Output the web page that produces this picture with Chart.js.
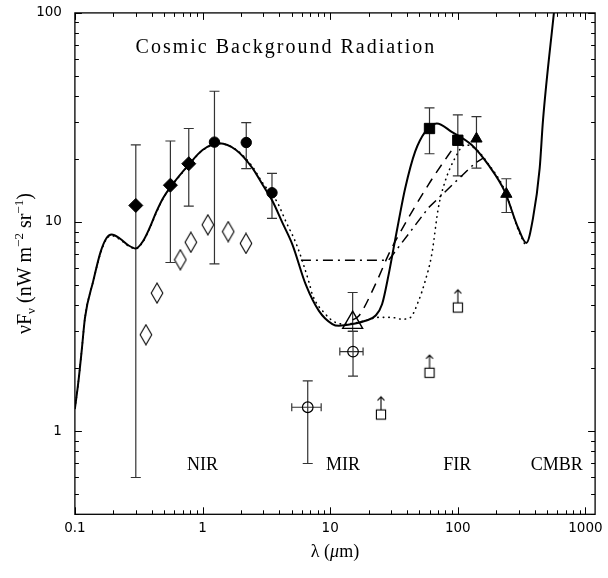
<!DOCTYPE html>
<html><head><meta charset="utf-8">
<script src="https://cdn.jsdelivr.net/npm/chart.js@4.4.1/dist/chart.umd.min.js"></script>
<style>html,body{margin:0;padding:0;background:#fff;}canvas{display:block;}</style>
</head><body>
<canvas id="c" width="608" height="578"></canvas>
<script>
// ---- axis ticks ----
const xTickValues = [0.1, 1, 10, 100, 1000];
const xTickLabels = ['0.1', '1', '10', '100', '1000'];
const yTickValues = [1, 10, 100];
const yTickLabels = ['1', '10', '100'];

// ---- measurements ----
const diamondX  = [0.30, 0.56, 0.78];
const diamondY  = [12.0, 15.0, 19.0];
const diamondLo = [0.60, 6.4, 11.9];
const diamondHi = [23.4, 24.4, 28.0];

const circleX  = [1.24, 2.2, 3.5];
const circleY  = [24.1, 24.0, 13.8];
const circleLo = [6.3, 18.0, 10.4];
const circleHi = [42.2, 29.9, 17.1];

const openDiamondX = [0.36, 0.44, 0.67, 0.81, 1.1, 1.59, 2.19];
const openDiamondY = [2.89, 4.57, 6.6, 8.0, 9.7, 9.0, 7.9];

const openTriX  = [15];
const openTriY  = [3.3];
const openTriLo = [3.0];
const openTriHi = [4.6];

const openCircX   = [6.67, 15.1];
const openCircY   = [1.30, 2.4];
const openCircLo  = [0.70, 1.83];
const openCircHi  = [1.74, 3.0];
const openCircXLo = [5.0, 11.9];
const openCircXHi = [8.5, 18.1];

const squareX  = [60, 100];
const squareY  = [28.0, 24.6];
const squareLo = [21.2, 16.6];
const squareHi = [35.1, 32.5];

const triX  = [140, 240];
const triY  = [25.0, 13.6];
const triLo = [18.1, 11.1];
const triHi = [31.9, 16.1];

const limitX = [25, 60, 100];
const limitY = [1.2, 1.9, 3.9];

// ---- model curves ----
const solidX = [0.1, 0.106, 0.113, 0.12, 0.139, 0.159, 0.177, 0.194, 0.225, 0.261, 0.30, 0.342, 0.385, 0.435, 0.49, 0.552, 0.78, 1.0, 1.355, 1.83, 2.46, 2.95, 3.53, 4.23, 5.06, 6.43, 8.16, 10.4, 11.7, 14.9, 18.9, 22.6, 25.5, 28.7, 31.4, 34.4, 38.7, 46.3, 55.5, 68.4, 89.5, 128, 173, 233, 297, 344, 388, 438, 465, 566, 620];
const solidY = [1.28, 1.68, 2.42, 3.49, 5.2, 7.2, 8.39, 8.71, 8.34, 7.75, 7.47, 8.1, 9.36, 11.2, 13.0, 14.5, 18.8, 22.1, 23.8, 22.1, 18.1, 15.1, 12.6, 9.9, 7.8, 5.03, 3.76, 3.25, 3.19, 3.25, 3.37, 3.56, 4.04, 5.6, 7.5, 10.1, 14.5, 21.7, 27.0, 29.6, 27.0, 23.4, 18.8, 14.0, 9.36, 7.94, 10.4, 18.1, 30.7, 100, 170];

const dotX = [0.1, 0.106, 0.113, 0.12, 0.139, 0.159, 0.177, 0.194, 0.225, 0.261, 0.30, 0.342, 0.385, 0.435, 0.49, 0.552, 0.78, 1.0, 1.355, 1.83, 2.46, 2.95, 3.8, 4.55, 5.45, 6.9, 7.24, 9.2, 11.0, 13.2, 18.0, 24.0, 30.0, 36.5, 42.4, 49.2, 55.5, 62.5, 70.4, 79.4, 95, 114, 140, 173, 233, 297, 344];
const dotY = [1.28, 1.68, 2.42, 3.49, 5.2, 7.1, 8.3, 8.6, 8.25, 7.7, 7.45, 8.05, 9.3, 11.1, 12.9, 14.4, 18.7, 22.0, 23.7, 22.2, 18.4, 15.4, 12.6, 9.9, 7.8, 5.03, 4.51, 3.62, 3.31, 3.25, 3.35, 3.5, 3.5, 3.43, 3.49, 4.19, 5.22, 7.0, 11.7, 15.6, 20.2, 23.4, 22.2, 19.0, 14.2, 9.2, 7.55];

const dashX = [15, 16.8, 22.6, 28.7, 32.4, 58.9, 100];
const dashY = [3.4, 3.56, 5.03, 7.0, 8.1, 15.1, 24.3];

const dashDotX = [5.9, 28.7, 58.9, 136, 158];
const dashDotY = [6.57, 6.57, 11.7, 19.1, 20.2];

// ---- text ----
const titleText = 'Cosmic Background Radiation';
const regionNames = ['NIR', 'MIR', 'FIR', 'CMBR'];
const regionX = [1.0, 12.6, 99, 597];
const regionY = 0.687;

function pts(xs, ys) { return xs.map((x, i) => ({x: x, y: ys[i]})); }

function makeTallDiamond() {
  const c = document.createElement('canvas'); c.width = 14; c.height = 22;
  const g = c.getContext('2d'); g.strokeStyle = '#000'; g.lineWidth = 1.1;
  g.beginPath(); g.moveTo(7, 1); g.lineTo(12.8, 11); g.lineTo(7, 21); g.lineTo(1.2, 11); g.closePath(); g.stroke();
  return c;
}
function makeLimitSquare() {
  const c = document.createElement('canvas'); c.width = 14; c.height = 40;
  const g = c.getContext('2d'); g.strokeStyle = '#000'; g.lineWidth = 1.1;
  const cx = 7, cy = 20, h = 4.6;
  g.strokeRect(cx - h, cy - h, 2 * h, 2 * h);
  g.beginPath(); g.moveTo(cx, cy - h); g.lineTo(cx, cy - h - 13);
  g.moveTo(cx - 3.5, cy - h - 9.5); g.lineTo(cx, cy - h - 13); g.lineTo(cx + 3.5, cy - h - 9.5);
  g.stroke();
  return c;
}

const errorGroups = [
  {x: diamondX, y: diamondY, lo: diamondLo, hi: diamondHi},
  {x: circleX, y: circleY, lo: circleLo, hi: circleHi},
  {x: openTriX, y: openTriY, lo: openTriLo, hi: openTriHi},
  {x: openCircX, y: openCircY, lo: openCircLo, hi: openCircHi, xlo: openCircXLo, xhi: openCircXHi},
  {x: squareX, y: squareY, lo: squareLo, hi: squareHi},
  {x: triX, y: triY, lo: triLo, hi: triHi}
];

const errorBarPlugin = {
  id: 'errorBars',
  beforeDatasetsDraw(chart) {
    const ctx = chart.ctx, xs = chart.scales.x, ys = chart.scales.y;
    ctx.save();
    ctx.strokeStyle = '#333'; ctx.lineWidth = 1.2;
    errorGroups.forEach(g => {
      g.x.forEach((xv, i) => {
        const px = xs.getPixelForValue(xv);
        const py = ys.getPixelForValue(g.y[i]);
        const pl = ys.getPixelForValue(g.lo[i]);
        const ph = ys.getPixelForValue(g.hi[i]);
        ctx.beginPath();
        ctx.moveTo(px, pl); ctx.lineTo(px, ph);
        ctx.moveTo(px - 5, pl); ctx.lineTo(px + 5, pl);
        ctx.moveTo(px - 5, ph); ctx.lineTo(px + 5, ph);
        if (g.xlo) {
          const xl = xs.getPixelForValue(g.xlo[i]);
          const xh = xs.getPixelForValue(g.xhi[i]);
          ctx.moveTo(xl, py); ctx.lineTo(xh, py);
          ctx.moveTo(xl, py - 4); ctx.lineTo(xl, py + 4);
          ctx.moveTo(xh, py - 4); ctx.lineTo(xh, py + 4);
        }
        ctx.stroke();
      });
    });
    ctx.restore();
  }
};

function drawRich(ctx, parts, cx, cy, rot) {
  ctx.save(); ctx.translate(cx, cy); ctx.rotate(rot);
  ctx.textBaseline = 'alphabetic'; ctx.textAlign = 'left'; ctx.fillStyle = '#000';
  let total = 0;
  parts.forEach(p => { ctx.font = (p.it ? 'italic ' : '') + p.s + 'px "Liberation Serif"'; p.w = ctx.measureText(p.t).width; total += p.w; });
  let x = -total / 2;
  parts.forEach(p => { ctx.font = (p.it ? 'italic ' : '') + p.s + 'px "Liberation Serif"'; ctx.fillText(p.t, x, p.dy || 0); x += p.w; });
  ctx.restore();
}

const framePlugin = {
  id: 'frame',
  afterDraw(chart) {
    const ctx = chart.ctx, ca = chart.chartArea, xs = chart.scales.x, ys = chart.scales.y;
    ctx.save();
    ctx.strokeStyle = '#000'; ctx.lineWidth = 1.3;
    ctx.strokeRect(ca.left, ca.top, ca.right - ca.left, ca.bottom - ca.top);
    ctx.lineWidth = 1;
    ctx.beginPath();
    for (let e = -1; e <= 3; e++) {
      for (let m = 1; m <= 9; m++) {
        const v = m * Math.pow(10, e);
        if (v < xs.min * 0.999 || v > xs.max) continue;
        const px = Math.round(xs.getPixelForValue(v)) + 0.5;
        const L = m === 1 ? 7 : 4;
        ctx.moveTo(px, ca.bottom); ctx.lineTo(px, ca.bottom - L);
        ctx.moveTo(px, ca.top); ctx.lineTo(px, ca.top + L);
      }
    }
    for (let e = -1; e <= 2; e++) {
      for (let m = 1; m <= 9; m++) {
        const v = m * Math.pow(10, e);
        if (v < ys.min * 0.999 || v > ys.max * 1.001) continue;
        const py = Math.round(ys.getPixelForValue(v)) + 0.5;
        const L = m === 1 ? 7 : 4;
        ctx.moveTo(ca.left, py); ctx.lineTo(ca.left + L, py);
        ctx.moveTo(ca.right, py); ctx.lineTo(ca.right - L, py);
      }
    }
    ctx.stroke();

    // title
    ctx.fillStyle = '#000';
    ctx.font = '20px "Liberation Serif"';
    ctx.letterSpacing = '2px';
    ctx.textAlign = 'center'; ctx.textBaseline = 'middle';
    ctx.fillText(titleText, xs.getPixelForValue(4.5), 48);
    ctx.letterSpacing = '0px';
    // region labels
    ctx.font = '18px "Liberation Serif"';
    regionNames.forEach((n, i) => {
      ctx.fillText(n, xs.getPixelForValue(regionX[i]), ys.getPixelForValue(regionY));
    });
    ctx.restore();

    // axis titles
    drawRich(ctx, [
      {t: 'λ (', s: 18}, {t: 'μ', s: 18, it: true}, {t: 'm)', s: 18}
    ], (ca.left + ca.right) / 2, 557, 0);
    drawRich(ctx, [
      {t: 'νF', s: 20}, {t: 'ν', s: 13, dy: 4}, {t: ' (nW m', s: 20}, {t: '−2', s: 13, dy: -8},
      {t: ' sr', s: 20}, {t: '−1', s: 13, dy: -8}, {t: ')', s: 20}
    ], 31, (ca.top + ca.bottom) / 2, -Math.PI / 2);
  }
};

const tallDiamond = makeTallDiamond();
const limitSquare = makeLimitSquare();
const tickFont = {family: '"DejaVu Sans"', size: 13.5};
const curve = {showLine: true, pointRadius: 0, borderColor: '#000', cubicInterpolationMode: 'monotone'};

new Chart(document.getElementById('c'), {
  type: 'scatter',
  data: {
    datasets: [
      {label: 'diamonds', data: pts(diamondX, diamondY), pointStyle: 'rectRot', pointRadius: 7, backgroundColor: '#000', borderColor: '#000', borderWidth: 1},
      {label: 'circles', data: pts(circleX, circleY), pointStyle: 'circle', pointRadius: 5.2, backgroundColor: '#000', borderColor: '#000', borderWidth: 1},
      {label: 'open diamonds', data: pts(openDiamondX, openDiamondY), pointStyle: tallDiamond},
      {label: 'open triangle', data: pts(openTriX, openTriY), pointStyle: 'triangle', pointRadius: 11.5, backgroundColor: 'rgba(0,0,0,0)', borderColor: '#000', borderWidth: 1.4},
      {label: 'open circles', data: pts(openCircX, openCircY), pointStyle: 'circle', pointRadius: 5.3, backgroundColor: 'rgba(0,0,0,0)', borderColor: '#000', borderWidth: 1.2},
      {label: 'squares', data: pts(squareX, squareY), pointStyle: 'rect', pointRadius: 7.3, backgroundColor: '#000', borderColor: '#000', borderWidth: 1},
      {label: 'triangles', data: pts(triX, triY), pointStyle: 'triangle', pointRadius: 6.5, backgroundColor: '#000', borderColor: '#000', borderWidth: 1},
      {label: 'lower limits', data: pts(limitX, limitY), pointStyle: limitSquare},
      Object.assign({label: 'model', data: pts(solidX, solidY), borderWidth: 2, tension: 0.4}, curve),
      Object.assign({label: 'model dotted', data: pts(dotX, dotY), borderWidth: 1.6, borderDash: [0.5, 5], borderCapStyle: 'round', tension: 0.4}, curve),
      Object.assign({label: 'model dashed', data: pts(dashX, dashY), borderWidth: 1.5, borderDash: [10, 7], tension: 0.4}, curve),
      Object.assign({label: 'model dash-dot', data: pts(dashDotX, dashDotY), borderWidth: 1.5, borderDash: [10, 5, 2, 5], tension: 0}, curve, {cubicInterpolationMode: 'default'})
    ]
  },
  options: {
    responsive: false, animation: false, devicePixelRatio: 1, events: [],
    layout: {padding: {top: 10.7, right: 10.7, left: 0, bottom: 0}},
    plugins: {legend: {display: false}, tooltip: {enabled: false}},
    scales: {
      x: {
        type: 'logarithmic', position: 'bottom', min: 0.1, max: 1190,
        afterBuildTicks: s => { s.ticks = xTickValues.map(v => ({value: v})); },
        afterFit: s => { s.height = 63.7; s.paddingLeft = 0; s.paddingRight = 0; },
        ticks: {autoSkip: false, maxRotation: 0, minRotation: 0, padding: 6, color: '#000', font: tickFont,
                 callback: (v, i) => xTickLabels[i]},
        grid: {display: true, drawOnChartArea: false, drawTicks: false},
        border: {display: false}
      },
      y: {
        type: 'logarithmic', position: 'left', min: 0.4, max: 100,
        afterBuildTicks: s => { s.ticks = yTickValues.map(v => ({value: v})); },
        afterFit: s => { s.width = 74.9; s.paddingTop = 0; s.paddingBottom = 0; },
        ticks: {autoSkip: false, padding: 13, color: '#000', font: tickFont,
                 callback: (v, i) => yTickLabels[i]},
        grid: {display: true, drawOnChartArea: false, drawTicks: false},
        border: {display: false}
      }
    }
  },
  plugins: [errorBarPlugin, framePlugin]
});
</script>
</body></html>
